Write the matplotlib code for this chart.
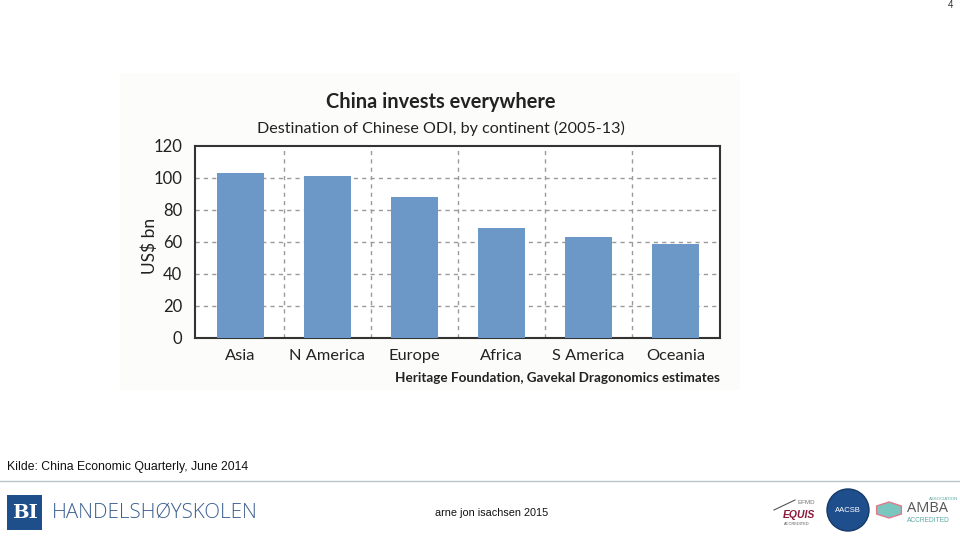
import matplotlib.pyplot as plt
import matplotlib.patches as mpatches
import numpy as np

# chart data
continents = ["Asia", "N America", "Europe", "Africa", "S America", "Oceania"]
odi_bn = [103, 101, 88, 69, 63, 59]
y_ticks = [0, 20, 40, 60, 80, 100, 120]

chart_font = "Lato"
slide_font = "Liberation Sans"

fig = plt.figure(figsize=(9.6, 5.37), dpi=100)
fig.patch.set_facecolor("white")

# faint background of the pasted chart image
fig.patches.append(mpatches.Rectangle((120/960, 1-390/537), 620/960, 317/537,
                                      transform=fig.transFigure, facecolor="#fcfcfa",
                                      edgecolor="none", zorder=-5))

ax = fig.add_axes([195/960, 1-338/537, 525/960, 192/537])
ax.set_zorder(5)
ax.set_facecolor("white")
x = np.arange(len(continents))
ax.bar(x, odi_bn, width=0.54, color="#6b98c7", zorder=3)

ax.set_xlim(-0.52, 5.51)
ax.set_ylim(0, 120)
ax.set_yticks(y_ticks)
ax.set_yticklabels([str(v) for v in y_ticks], fontsize=12, family=chart_font, color="#222222")
ax.set_xticks(x)
ax.set_xticklabels(continents, fontsize=11.8, family=chart_font, color="#222222")
ax.tick_params(length=0, pad=9)
ax.tick_params(axis="x", pad=8)

# dashed grid
for v in y_ticks[1:-1]:
    ax.axhline(v, color="#9a9a9a", linestyle=(0, (3, 3)), linewidth=1, zorder=1)
for b in np.arange(len(continents) - 1) + 0.5:
    ax.axvline(b, color="#9a9a9a", linestyle=(0, (3, 3)), linewidth=1, zorder=1)

for s in ax.spines.values():
    s.set_color("#333333")
    s.set_linewidth(1.5)

ax.set_ylabel("US$ bn", fontsize=12.5, family=chart_font, color="#222222")
ax.yaxis.set_label_coords(-0.07, 0.48)

fig.text(441/960, 1-102/537, "China invests everywhere", ha="center", va="center",
         fontsize=14.4, fontweight="bold", family=chart_font, color="#222222")
fig.text(441/960, 1-128/537, "Destination of Chinese ODI, by continent (2005-13)", ha="center",
         va="center", fontsize=11.6, family=chart_font, color="#222222")
fig.text(720/960, 1-378/537, "Heritage Foundation, Gavekal Dragonomics estimates", ha="right",
         va="center", fontsize=9.7, fontweight="bold", family=chart_font, color="#222222")

# slide furniture
fig.text(953/960, 1-5/537, "4", ha="right", va="center", fontsize=7, family=slide_font, color="#333333")
fig.text(7/960, 1-467/537, "Kilde: China Economic Quarterly, June 2014", ha="left", va="center",
         fontsize=8.85, family=slide_font, color="#111111")
fig.add_artist(plt.Line2D([0, 1], [1-481/537, 1-481/537], transform=fig.transFigure,
                          color="#b9c5cc", linewidth=1))

# BI logo
fig.patches.append(mpatches.Rectangle((7/960, 1-530/537), 35/960, 35/537, transform=fig.transFigure,
                                      facecolor="#1f4f8b", edgecolor="none"))
fig.text(24.5/960, 1-513/537, "BI", ha="center", va="center", fontsize=14, fontweight="bold",
         family="DejaVu Serif", color="white")
fig.text(52/960, 1-513/537, "HANDELSHØYSKOLEN", ha="left", va="center", fontsize=14.8,
         family="Open Sans", fontweight="light", color="#3a5f8f")

fig.text(492/960, 1-513/537, "arne jon isachsen 2015", ha="center", va="center", fontsize=7.8,
         family=slide_font, color="#111111")

# accreditation logos (rough)
fig.text(797/960, 1-503/537, "EFMD", ha="left", va="center", fontsize=4.5, family=slide_font, color="#777777")
fig.text(783/960, 1-515/537, "EQUIS", ha="left", va="center", fontsize=7.5, fontweight="bold",
         style="italic", family=slide_font, color="#8b1a3a")
fig.text(784/960, 1-524/537, "ACCREDITED", ha="left", va="center", fontsize=2.8, family=slide_font, color="#555555")
fig.add_artist(plt.Line2D([774/960, 795/960], [1-510/537, 1-500/537], transform=fig.transFigure,
                          color="#555555", linewidth=0.8))
fig.patches.append(mpatches.Ellipse((848/960, 1-510/537), 42/960, 42/537, transform=fig.transFigure,
                                    facecolor="#1f4e8c", edgecolor="#163a6a"))
fig.text(848/960, 1-510/537, "AACSB", ha="center", va="center", fontsize=5.5, family=slide_font, color="white")
fig.patches.append(mpatches.RegularPolygon((889/960, 1-510/537), numVertices=6, radius=8/537,
                                           transform=fig.transFigure, facecolor="#7cc6c0", edgecolor="#e27a8c"))
fig.text(907/960, 1-509/537, "AMBA", ha="left", va="center", fontsize=10.5, family="Open Sans", color="#555555")
fig.text(907/960, 1-520/537, "ACCREDITED", ha="left", va="center", fontsize=4.8, family=slide_font, color="#5aa9a3")
fig.text(929/960, 1-499/537, "ASSOCIATION", ha="left", va="center", fontsize=3.2, family=slide_font, color="#5aa9a3")

fig.savefig("out.png", dpi=100, facecolor="white")
